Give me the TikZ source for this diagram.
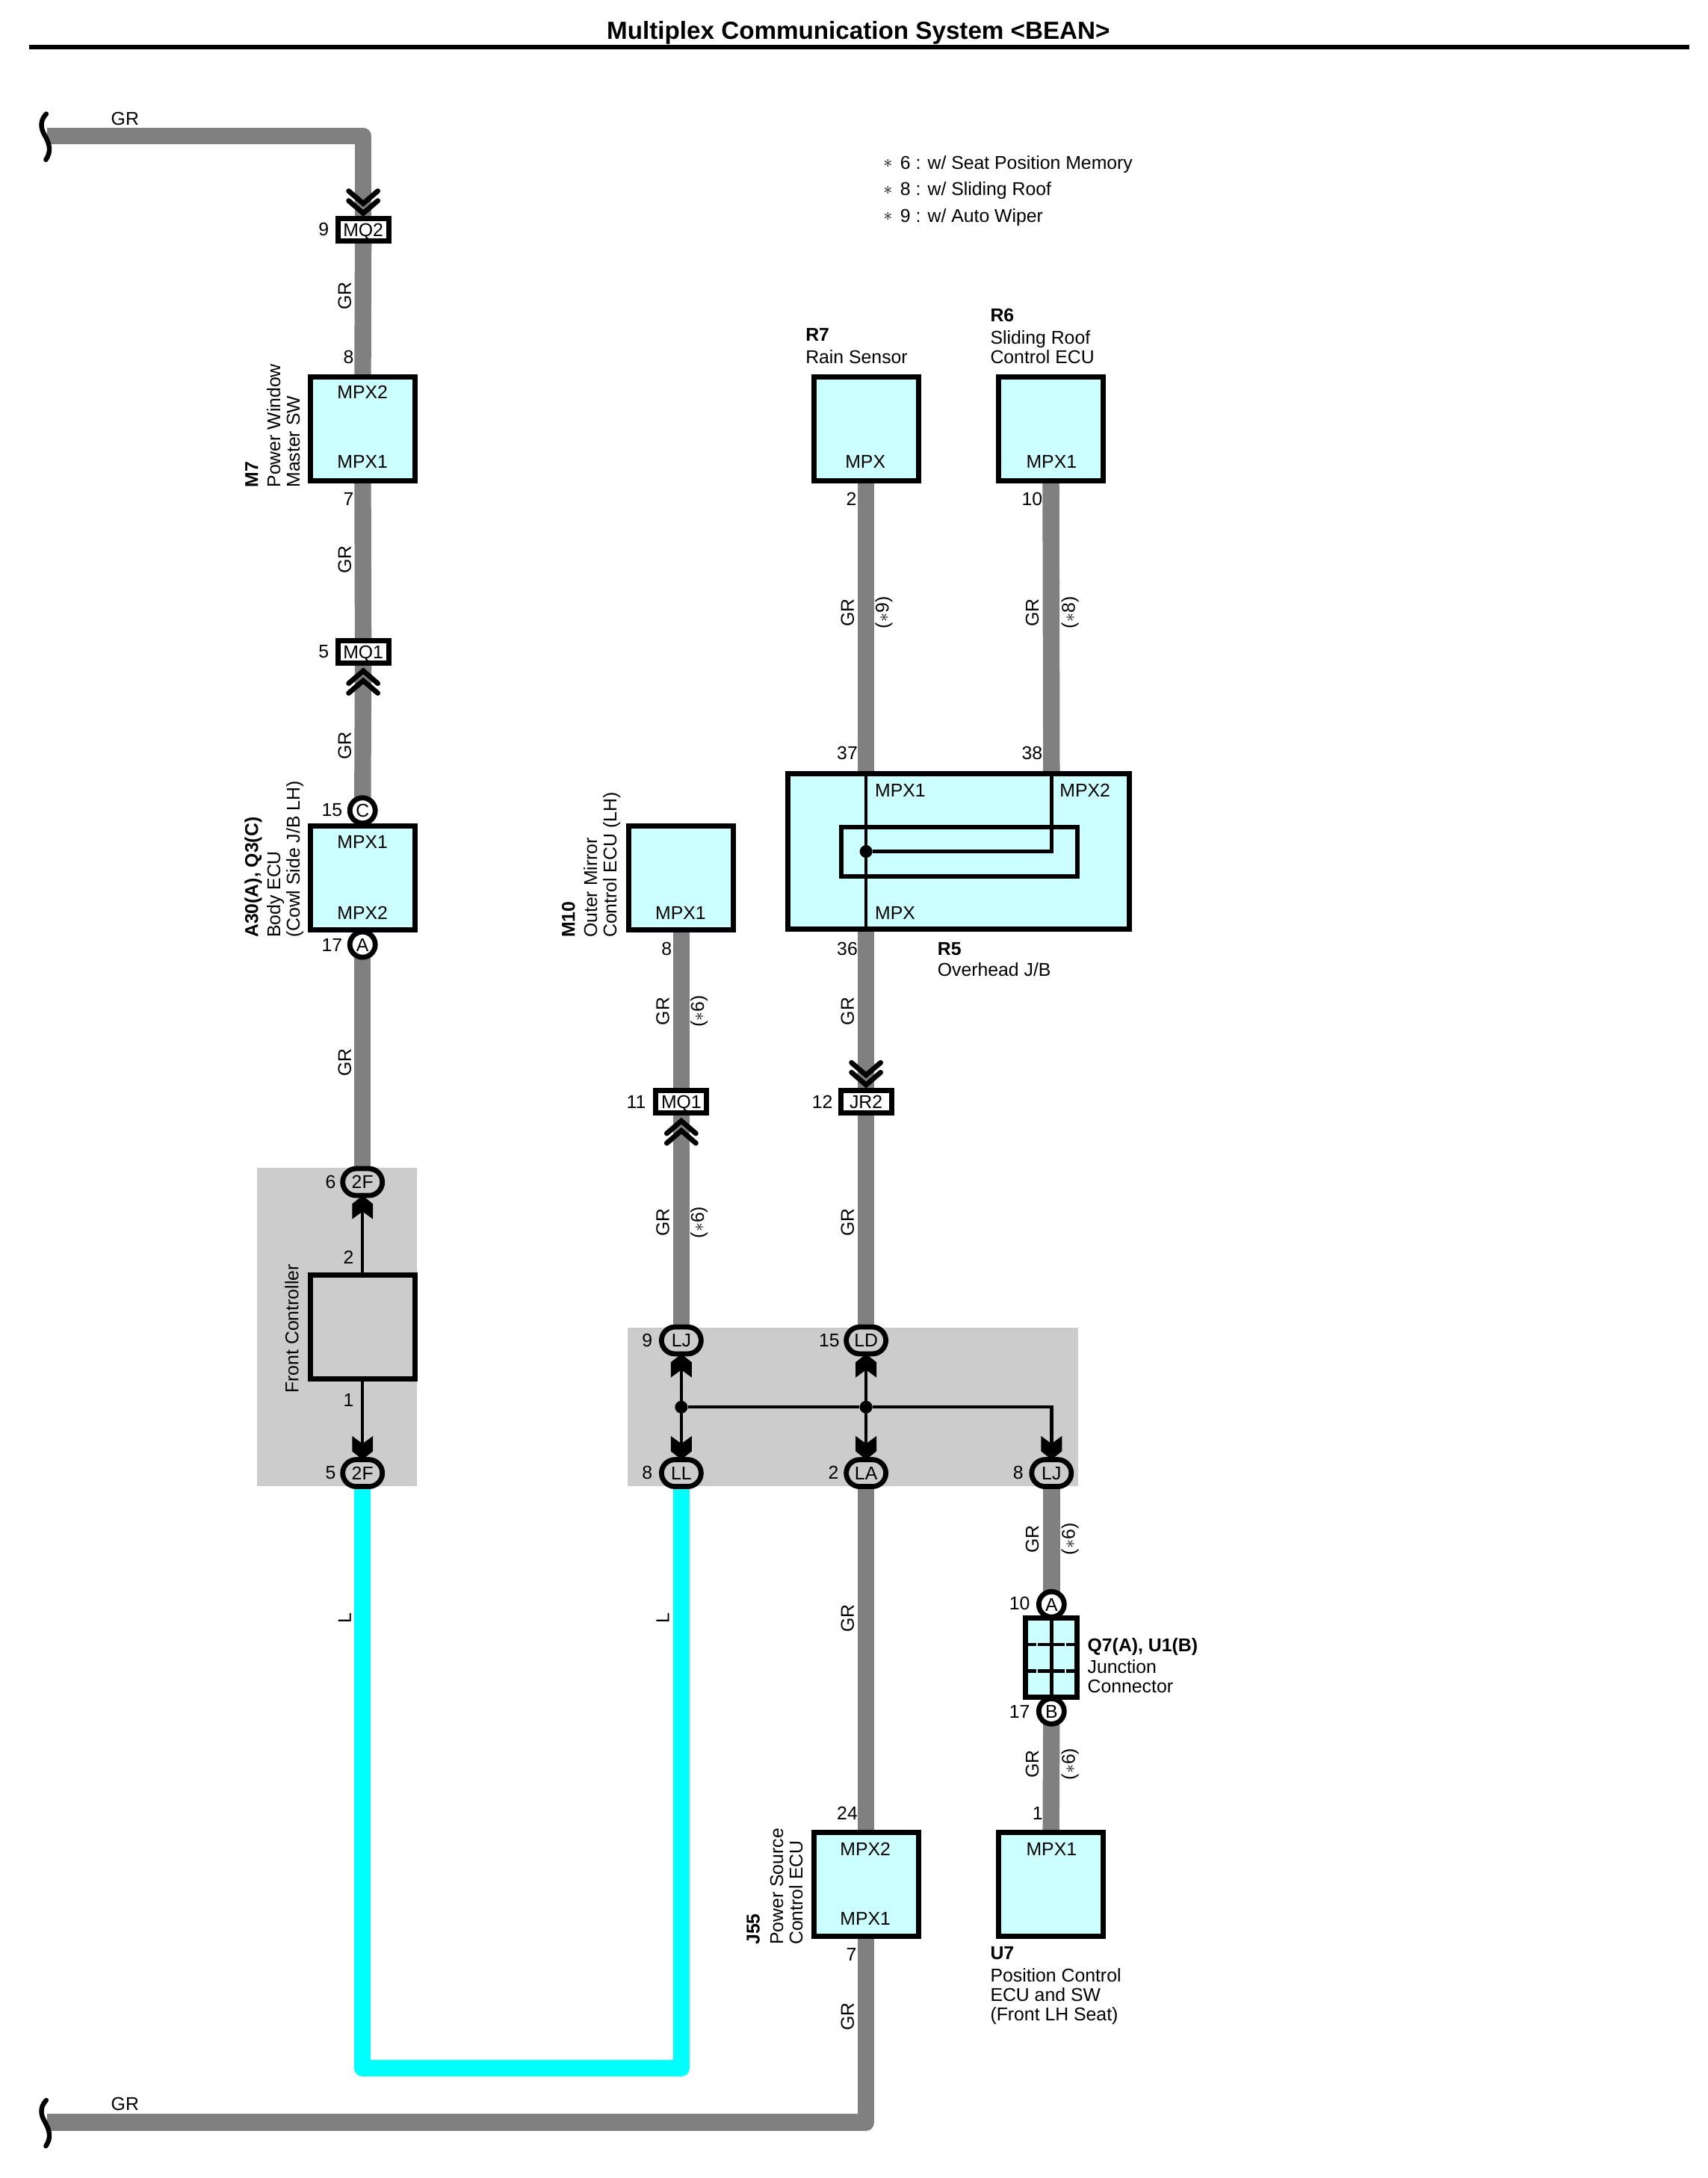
\documentclass[tikz,border=0pt]{standalone}
\usepackage{fontspec}
\setmainfont{Liberation Sans}
\usetikzlibrary{shapes.misc}
\definecolor{wiregray}{HTML}{808080}
\definecolor{wirecyan}{HTML}{00FFFF}
\definecolor{boxcyan}{HTML}{CCFFFF}
\definecolor{panelgray}{HTML}{CCCCCC}
\pgfdeclarelayer{panel}
\pgfdeclarelayer{wires}
\pgfsetlayers{panel,wires,main}
\newcommand{\astk}{\raisebox{.8pt}{$\ast$}\hspace{1.8pt}}
\tikzset{
  txt/.style={inner sep=0pt,outer sep=0pt,text height=8.9pt,text depth=0pt,font=\fontsize{12.4}{12}\selectfont},
  bld/.style={txt,font=\fontsize{12.4}{12}\selectfont\bfseries},
  lft/.style={txt,anchor=west},
  lftb/.style={bld,anchor=west},
  rotl/.style={txt,rotate=90,anchor=west},
  rotlb/.style={bld,rotate=90,anchor=west},
  rot/.style={txt,rotate=90},
  wire/.style={draw=wiregray,line width=11.2pt,line join=round},
  cwire/.style={draw=wirecyan,line width=11.2pt,line join=round},
  inwire/.style={draw=black,line width=2.2pt},
  box/.style={draw=black,line width=3.5pt,fill=boxcyan,rectangle,inner sep=0pt,minimum width=70pt,minimum height=69.5pt},
  graybox/.style={box,fill=panelgray},
  tag/.style={txt,draw=black,line width=3.4pt,fill=white,rectangle,minimum width=34pt,minimum height=15pt},
  pill/.style={txt,draw=black,line width=3.4pt,fill=panelgray,rounded rectangle,minimum width=26.5pt,minimum height=18pt},
  circ/.style={txt,draw=black,line width=3.4pt,fill=white,circle,minimum size=17pt},
  panel/.style={fill=panelgray},
  dot/.style={fill=black,circle,inner sep=0pt,minimum size=8.5pt},
  chevdown/.pic={
    \draw[line width=3.4pt,line cap=round,miter limit=10] (-10.5,0) -- (0,9) -- (10.5,0);
    \draw[line width=3.4pt,line cap=round,miter limit=10] (-10.5,7) -- (0,16) -- (10.5,7);
  },
  chevup/.pic={
    \draw[line width=3.4pt,line cap=round,miter limit=10] (-10.5,0) -- (0,-9) -- (10.5,0);
    \draw[line width=3.4pt,line cap=round,miter limit=10] (-10.5,-7) -- (0,-16) -- (10.5,-7);
  },
  fatup/.pic={
    \fill (0,0) -- (7.5,6) -- (7.5,17) -- (0,11.5) -- (-7.5,17) -- (-7.5,6) -- cycle;
  },
  fatdown/.pic={
    \fill (0,0) -- (7.5,-6) -- (7.5,-17) -- (0,-11.5) -- (-7.5,-17) -- (-7.5,-6) -- cycle;
  },
  brk/.pic={
    \draw[line width=3.2pt,line cap=round] (0.3,-16) .. controls (-3.5,-12) and (-4.5,-7) .. (-1,-1) .. controls (3,6) and (4,11) .. (0,17);
  },
}
\begin{document}
\begin{tikzpicture}[x=0.92947pt,y=-0.92947pt]
\useasboundingbox (0,0) rectangle (1229.2,1568);
% title
\node[bld,font=\fontsize{16.6}{16}\selectfont\bfseries,text height=11.8pt] (title) at (618,22) {Multiplex Communication System <BEAN>};
\coordinate (ruleL) at (21,34); \coordinate (ruleR) at (1216,34);
\draw[line width=3pt] (ruleL) -- (ruleR);
% panels
\begin{pgfonlayer}{panel}
\fill[panel] (185,841) rectangle (300,1070);
\fill[panel] (452,956) rectangle (776,1070);
\end{pgfonlayer}
% free wire ends
\coordinate (topEnd) at (34,98);
\coordinate (botEnd) at (34,1528);
% boxes
\node[box] (m7) at (261,308.5) {};
\node[box] (body) at (261,632) {};
\node[graybox] (fc) at (261,955.5) {};
\node[box] (m10) at (490.5,632) {};
\node[box] (r7) at (623.5,308.5) {};
\node[box] (r6) at (756.5,308.5) {};
\node[box,minimum width=228.5pt,minimum height=104pt] (r5) at (690,613) {};
\node[box] (j55) at (623.5,1356.5) {};
\node[box] (u7) at (756.5,1356.5) {};
\node[box,minimum width=34.5pt,minimum height=53pt] (jc) at (757,1193.5) {};
% inner R5
\draw[line width=3pt] (605.5,595.5) rectangle (775.5,631);
\coordinate (r5a) at (623.5,556);
\coordinate (r5b) at (623.5,670);
\coordinate (r5c) at (757,556);
\coordinate (r5d) at (757,613);
\node[dot] (r5dot) at (623.5,613) {};
\draw[inwire] (r5a) -- (r5b);
\draw[inwire] (r5c) -- (r5d) -- (r5dot);
% junction internals
\coordinate (jt) at (757,1164); \coordinate (jb) at (757,1223);
\draw[inwire] (jt) -- (jb);
\foreach \yy in {1184,1203}{
  \draw[line width=2.2pt] (738,\yy) -- (746,\yy) (747,\yy) -- (766.5,\yy) (767.5,\yy) -- (776,\yy);
}
% connector tags
\node[tag] (mq2) at (261.5,165.5) {MQ2};
\node[tag] (mq1a) at (261.5,469.5) {MQ1};
\node[tag] (mq1b) at (490.5,793) {MQ1};
\node[tag] (jr2) at (623.5,793) {JR2};
\node[circ] (cC) at (261,583.5) {C};
\node[circ] (cA) at (261,680) {A};
\node[circ] (jA) at (757,1155) {A};
\node[circ] (jB) at (757,1232) {B};
\node[pill] (f2top) at (261,851) {2F};
\node[pill] (f2bot) at (261,1060.5) {2F};
\node[pill] (lj9) at (490.5,965) {LJ};
\node[pill] (ld) at (623.5,965) {LD};
\node[pill] (ll) at (490.5,1060.5) {LL};
\node[pill] (la) at (623.5,1060.5) {LA};
\node[pill] (lj8) at (757,1060.5) {LJ};
% chevrons
\pic at (261.5,137.5) {chevdown};
\pic at (623.5,765) {chevdown};
\pic at (261.5,499) {chevup};
\pic at (490.5,823) {chevup};
% wires
\begin{pgfonlayer}{wires}
\draw[wire] (topEnd) -- (topEnd-|mq2) -- (mq2.center);
\draw[wire] (mq2.center) -- (m7.center);
\draw[wire] (m7.center) -- (mq1a.center);
\draw[wire] (mq1a.center) -- (cC.center);
\draw[wire] (cC.center) -- (body.center);
\draw[wire] (body.center) -- (cA.center);
\draw[wire] (cA.center) -- (f2top.center);
\draw[cwire] (f2bot.center) -- (f2bot.center|-0,1489) -- (ll.center|-0,1489) -- (ll.center);
\draw[wire] (m10.center) -- (mq1b.center);
\draw[wire] (mq1b.center) -- (lj9.center);
\draw[wire] (r7.center) -- (r5a);
\draw[wire] (r6.center) -- (r5c);
\draw[wire] (r5b) -- (jr2.center);
\draw[wire] (jr2.center) -- (ld.center);
\draw[wire] (la.center) -- (j55.center);
\draw[wire] (j55.center) -- (j55.center|-botEnd) -- (botEnd);
\draw[wire] (lj8.center) -- (jA.center);
\draw[wire] (jB.center) -- (u7.center);
\end{pgfonlayer}
\pic at (33,98) {brk};
\pic at (33,1528) {brk};
% thin lines inside panels
\draw[inwire] (fc.north) -- (f2top.south);
\draw[inwire] (fc.south) -- (f2bot.north);
\pic at (f2top.south) {fatup};
\pic at (f2bot.north) {fatdown};
\node[dot] (d1) at (490.5,1013) {};
\node[dot] (d2) at (623.5,1013) {};
\draw[inwire] (lj9.south) -- (ll.north);
\draw[inwire] (ld.south) -- (la.north);
\draw[inwire] (d1) -- (d2) -- (d2-|lj8) -- (lj8.north);
\pic at (lj9.south) {fatup};
\pic at (ld.south) {fatup};
\pic at (ll.north) {fatdown};
\pic at (la.north) {fatdown};
\pic at (lj8.north) {fatdown};
% notes
\node[lft] (n1) at (636,117) {\astk{} 6 : w/ Seat Position Memory};
\node[lft] (n2) at (636,136) {\astk{} 8 : w/ Sliding Roof};
\node[lft] (n3) at (636,155) {\astk{} 9 : w/ Auto Wiper};
% wire labels horizontal
\node[txt] (gr1) at (90,85.5) {GR};
\node[txt] (gr2) at (90,1514.5) {GR};
% rotated wire labels
\node[rot] at (248,213) {GR};
\node[rot] at (248,403) {GR};
\node[rot] at (248,537) {GR};
\node[rot] at (248,765) {GR};
\node[rot] at (248,1165) {L};
\node[rot] at (477,1165) {L};
\node[rot] at (477,728) {GR};
\node[rot] at (502,728) {($\ast$6)};
\node[rot] at (477,880) {GR};
\node[rot] at (502,880) {($\ast$6)};
\node[rot] at (610,441) {GR};
\node[rot] at (635,441) {($\ast$9)};
\node[rot] at (743,441) {GR};
\node[rot] at (769,441) {($\ast$8)};
\node[rot] at (610,728) {GR};
\node[rot] at (610,880) {GR};
\node[rot] at (610,1165) {GR};
\node[rot] at (743,1108) {GR};
\node[rot] at (769,1108) {($\ast$6)};
\node[rot] at (743,1270) {GR};
\node[rot] at (769,1270) {($\ast$6)};
\node[rot] at (610,1452) {GR};
% pin numbers
\node[txt] at (233,165) {9};
\node[txt] at (251,257) {8};
\node[txt] at (251,359) {7};
\node[txt] at (233,469) {5};
\node[txt] at (239,583) {15};
\node[txt] at (239,680) {17};
\node[txt] at (238,851) {6};
\node[txt] at (251,905) {2};
\node[txt] at (251,1008) {1};
\node[txt] at (238,1060) {5};
\node[txt] at (480,683) {8};
\node[txt] at (458,793) {11};
\node[txt] at (466,965) {9};
\node[txt] at (597,965) {15};
\node[txt] at (466,1060) {8};
\node[txt] at (600,1060) {2};
\node[txt] at (733,1060) {8};
\node[txt] at (613,359) {2};
\node[txt] at (743,359) {10};
\node[txt] at (610,542) {37};
\node[txt] at (743,542) {38};
\node[txt] at (610,683) {36};
\node[txt] at (592,793) {12};
\node[txt] at (734,1154) {10};
\node[txt] at (734,1232) {17};
\node[txt] at (747,1305) {1};
\node[txt] at (610,1305) {24};
\node[txt] at (613,1407) {7};
% terminal names
\node[txt] at (261,282) {MPX2};
\node[txt] at (261,332) {MPX1};
\node[txt] at (261,606) {MPX1};
\node[txt] at (261,657) {MPX2};
\node[txt] at (490,657) {MPX1};
\node[txt] at (623,332) {MPX};
\node[txt] at (757,332) {MPX1};
\node[lft] at (630,569) {MPX1};
\node[lft] at (763,569) {MPX2};
\node[lft] at (630,657) {MPX};
\node[txt] at (623,1331) {MPX2};
\node[txt] at (623,1381) {MPX1};
\node[txt] at (757,1331) {MPX1};
% component names rotated
\node[rotlb] at (181,351) {M7};
\node[rotl] at (197,351) {Power Window};
\node[rotl] at (211,351) {Master SW};
\node[rotlb] at (181,675) {A30(A), Q3(C)};
\node[rotl] at (197,675) {Body ECU};
\node[rotl] at (211,675) {(Cowl Side  J/B LH)};
\node[rotl] at (210,1003) {Front Controller};
\node[rotlb] at (409,675) {M10};
\node[rotl] at (425,675) {Outer Mirror};
\node[rotl] at (439,675) {Control ECU (LH)};
\node[rotlb] at (542,1400) {J55};
\node[rotl] at (559,1400) {Power Source};
\node[rotl] at (573,1400) {Control ECU};
% component names horizontal
\node[lftb] at (580,241) {R7};
\node[lft] at (580,257) {Rain Sensor};
\node[lftb] at (713,227) {R6};
\node[lft] at (713,243) {Sliding Roof};
\node[lft] at (713,257) {Control ECU};
\node[lftb] at (675,683) {R5};
\node[lft] at (675,698) {Overhead J/B};
\node[lftb] at (783,1184) {Q7(A), U1(B)};
\node[lft] at (783,1200) {Junction};
\node[lft] at (783,1214) {Connector};
\node[lftb] at (713,1406) {U7};
\node[lft] at (713,1422) {Position Control};
\node[lft] at (713,1436) {ECU and SW};
\node[lft] at (713,1450) {(Front LH Seat)};
\end{tikzpicture}
\end{document}
